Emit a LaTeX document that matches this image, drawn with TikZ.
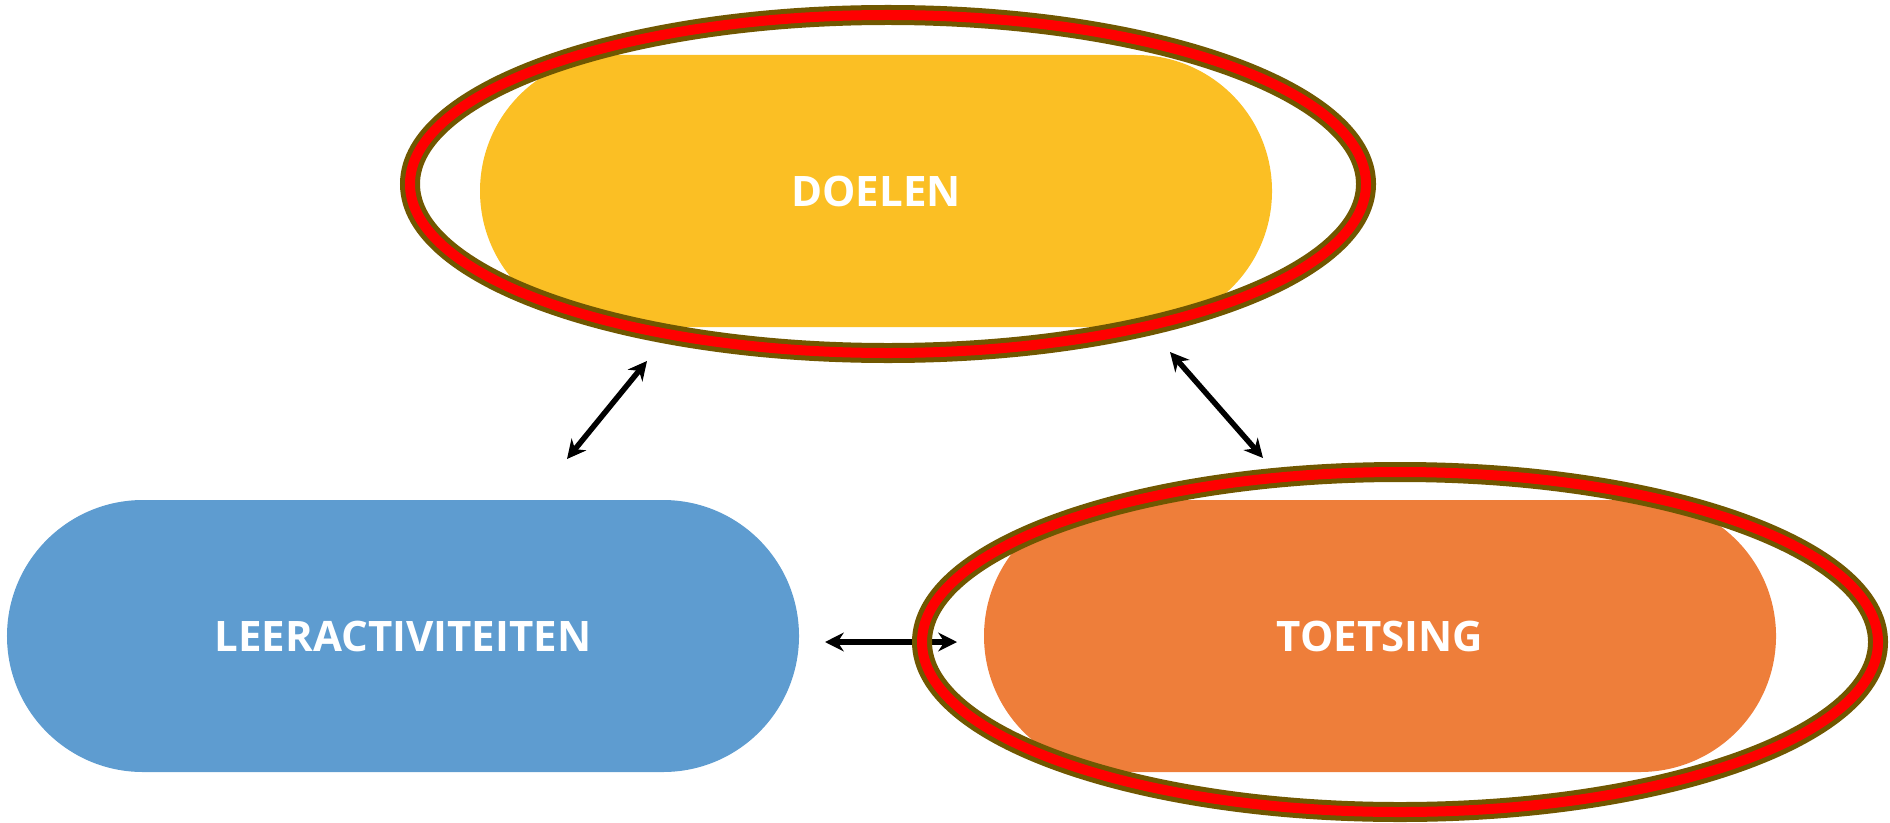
\documentclass[tikz,border=0pt]{standalone}
\usepackage{fontspec}
\setmainfont{Open Sans}
\usepackage{xcolor}
\usetikzlibrary{shapes.misc,shapes.geometric,arrows.meta}
\definecolor{doelgeel}{HTML}{FBBF24}
\definecolor{leerblauw}{HTML}{5E9CD0}
\definecolor{toetsoranje}{HTML}{EE7E3A}
\definecolor{randbruin}{HTML}{705700}
\begin{document}
\begin{tikzpicture}[
	x=0.4pt, y=0.4pt,
	blok/.style = {shape=rounded rectangle, fill=#1, draw=none,
		minimum width=316.8pt, minimum height=108.8pt, inner sep=0pt,
		text=white, font=\bfseries\fontsize{16.8}{20}\selectfont},
	ring/.style = {shape=ellipse, draw=randbruin, line width=2pt,
		double=red, double distance=4pt, minimum width=382.4pt,
		minimum height=#1, inner sep=0pt},
	pijl/.style = {{Stealth[length=7.5pt,width=7.5pt]}-{Stealth[length=7.5pt,width=7.5pt]},
		line width=2.2pt}]
	\useasboundingbox (0,0) rectangle (1890,822);
	\node[blok=doelgeel] (doelen) at (876,631) {DOELEN};
	\node[blok=leerblauw] (leeract) at (403,186) {LEERACTIVITEITEN};
	\node[blok=toetsoranje] (toetsing) at (1380,186) {TOETSING};
	\coordinate (la) at (567,363);
	\coordinate (lb) at (647,461);
	\coordinate (ra) at (1170,470);
	\coordinate (rb) at (1263,364);
	\coordinate (ha) at (825,180);
	\coordinate (hb) at (957,180);
	\draw[pijl] (la) -- (lb);
	\draw[pijl] (ra) -- (rb);
	\draw[pijl] (ha) -- (hb);
	\node[ring=135.2pt] (doelenring) at (888,638) {};
	\node[ring=136pt] (toetsring) at (1400,180) {};
\end{tikzpicture}
\end{document}
